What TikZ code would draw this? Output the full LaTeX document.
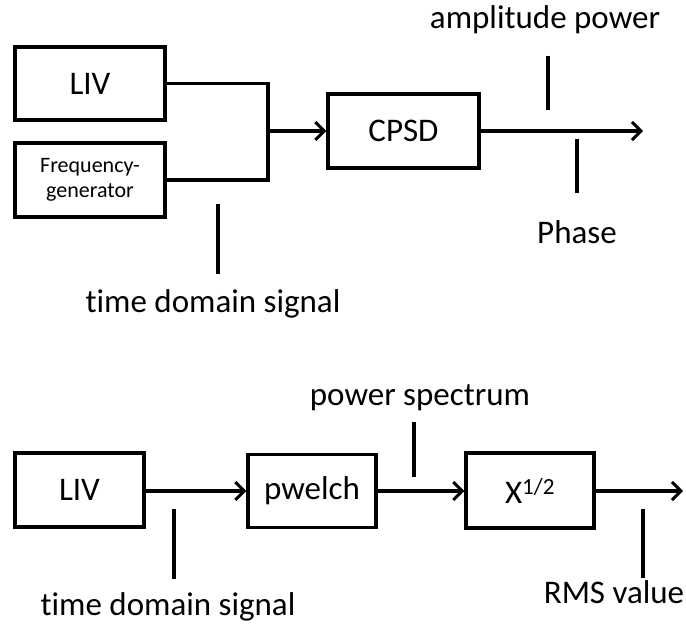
\documentclass[tikz,border=0pt]{standalone}
\usepackage{fontspec}
\setmainfont{Carlito}[Ligatures=NoCommon]
\usetikzlibrary{arrows.meta}
\begin{document}
\begin{tikzpicture}[x=1pt,y=-1pt,
  box/.style={draw,line width=3.2pt,inner sep=0pt,font=\fontsize{33}{40}\selectfont},
  lbl/.style={anchor=base,inner sep=0pt,font=\fontsize{33}{40}\selectfont},
  wire/.style={line width=3.2pt},
  arr/.style={line width=3.2pt,-{Straight Barb[length=9pt,width=18pt,line width=3pt]}}]
\useasboundingbox (0,0) rectangle (686,626);
% top
\node[box,minimum width=150pt,minimum height=73pt] (liv1) at (90,83.5) {LIV};
\node[box,minimum width=150pt,minimum height=74pt,align=center,font=\fontsize{22}{25}\selectfont] (freq) at (90,180) {Frequency-\\generator};
\node[box,minimum width=151pt,minimum height=74pt] (cpsd) at (403.5,131) {CPSD};
\coordinate (j) at (268,131);
\coordinate (out1) at (643,131);
\draw[wire] (liv1.east) -| (j);
\draw[wire] (freq.east) -| (j);
\draw[arr] (j) -- (cpsd.west);
\draw[arr] (cpsd.east) -- (out1);
\node[lbl] (amp) at (545,29) {amplitude power};
\node[lbl] (phase) at (577,243) {Phase};
\node[lbl] (tds1) at (213,312) {time domain signal};
\draw[wire] (548,56) -- (548,110);
\draw[wire] (577,139) -- (577,193);
\draw[wire] (218,204) -- (218,274);
% bottom
\node[box,minimum width=129pt,minimum height=74pt] (liv2) at (79.5,490) {LIV};
\node[box,minimum width=128pt,minimum height=73pt] (pw) at (312,491) {pwelch};
\node[box,minimum width=128pt,minimum height=75pt] (sq) at (530,490.5) {X\textsuperscript{1/2}};
\coordinate (out2) at (683,491);
\draw[arr] (liv2.east |- pw.west) -- (pw.west);
\draw[arr] (pw.east) -- (sq.west |- pw.east);
\draw[arr] (sq.east |- pw.east) -- (out2);
\node[lbl] (ps) at (420,405) {power spectrum};
\node[lbl] (tds2) at (168,615) {time domain signal};
\node[lbl] (rms) at (614,603) {RMS value};
\draw[wire] (414,422) -- (414,477);
\draw[wire] (174,509) -- (174,579);
\draw[wire] (643,509) -- (643,578);
\end{tikzpicture}
\end{document}
